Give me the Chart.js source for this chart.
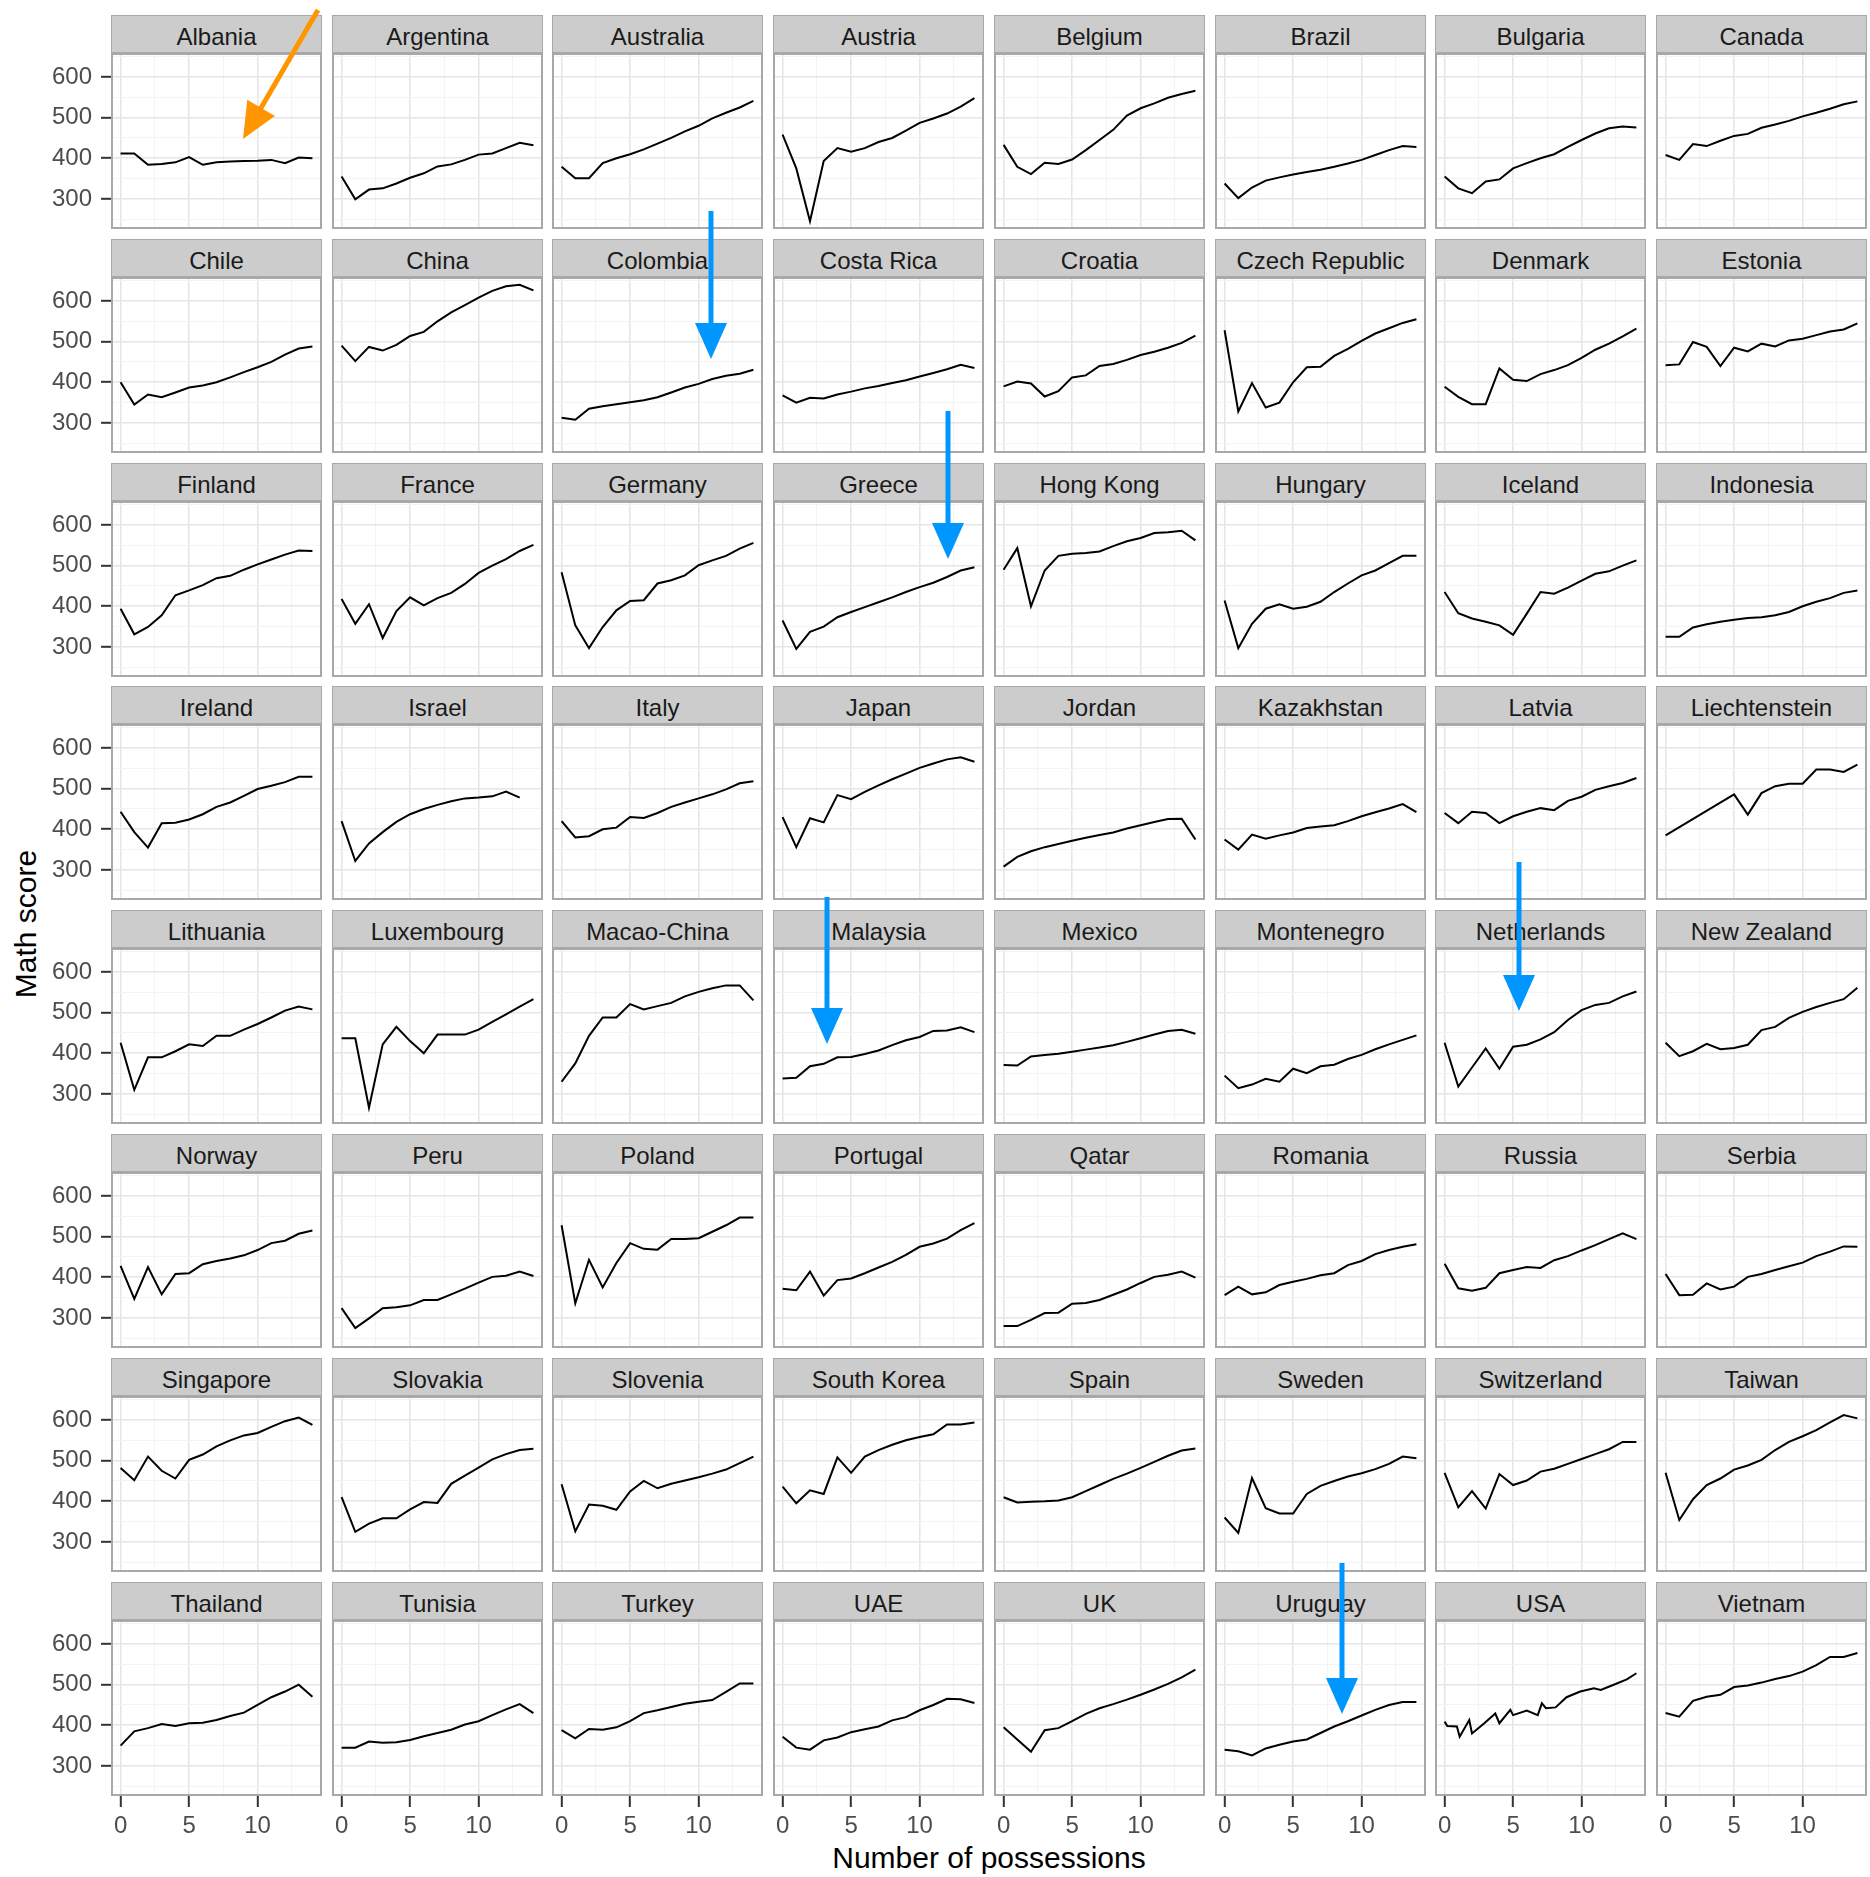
<!DOCTYPE html>
<html lang="en">
<head>
<meta charset="UTF-8">
<title>Math score by number of possessions</title>
<script src="https://cdn.jsdelivr.net/npm/chart.js"></script>
<style>
  body { margin: 0; background: #fff; font-family: "Liberation Sans", Arial, sans-serif; }
  #page { position: relative; width: 1870px; height: 1877px; overflow: hidden; }
  .strip { position: absolute; box-sizing: border-box; height: 38px; background: #cccccc; border: 1px solid #a8a8a8;
           color: #1a1a1a; font-size: 24px; text-align: center; line-height: 42px; white-space: nowrap; overflow: hidden; }
  canvas { position: absolute; }
  .axis-title { position: absolute; font-size: 30px; color: #000; white-space: nowrap; }
  #arrows { position: absolute; left: 0; top: 0; pointer-events: none; z-index: 10; }
</style>
</head>
<body>
<div id="page">
  <div class="axis-title" id="yTitle">Math score</div>
  <div class="axis-title" id="xTitle">Number of possessions</div>
  <svg id="arrows" width="1870" height="1877"></svg>
</div>

<script>
// facet order (8 x 8)
const countries = [
  'Albania', 'Argentina', 'Australia', 'Austria', 'Belgium', 'Brazil', 'Bulgaria', 'Canada',
  'Chile', 'China', 'Colombia', 'Costa Rica', 'Croatia', 'Czech Republic', 'Denmark', 'Estonia',
  'Finland', 'France', 'Germany', 'Greece', 'Hong Kong', 'Hungary', 'Iceland', 'Indonesia',
  'Ireland', 'Israel', 'Italy', 'Japan', 'Jordan', 'Kazakhstan', 'Latvia', 'Liechtenstein',
  'Lithuania', 'Luxembourg', 'Macao-China', 'Malaysia', 'Mexico', 'Montenegro', 'Netherlands', 'New Zealand',
  'Norway', 'Peru', 'Poland', 'Portugal', 'Qatar', 'Romania', 'Russia', 'Serbia',
  'Singapore', 'Slovakia', 'Slovenia', 'South Korea', 'Spain', 'Sweden', 'Switzerland', 'Taiwan',
  'Thailand', 'Tunisia', 'Turkey', 'UAE', 'UK', 'Uruguay', 'USA', 'Vietnam'
];

// number of possessions (x)
const possessions = [0, 1, 2, 3, 4, 5, 6, 7, 8, 9, 10, 11, 12, 13, 14];

// mean math score per number of possessions
const albania      = [412, 412, 384, 386, 390, 403, 384, 390, 392, 393, 394, 396, 388, 402, 400];
const argentina    = [355, 299, 323, 326, 338, 352, 363, 380, 385, 396, 409, 412, 425, 438, 432];
const australia    = [379, 351, 351, 388, 400, 410, 422, 436, 450, 466, 480, 498, 512, 525, 541];
const austria      = [458, 375, 245, 393, 425, 416, 425, 440, 450, 468, 487, 498, 510, 527, 548];
const belgium      = [433, 379, 361, 389, 386, 397, 420, 445, 470, 505, 523, 535, 549, 558, 566];
const brazil       = [338, 302, 328, 345, 353, 360, 366, 372, 379, 387, 396, 408, 420, 430, 428];
const bulgaria     = [355, 326, 314, 343, 348, 375, 388, 400, 410, 428, 445, 461, 474, 478, 476];
const canada       = [408, 396, 435, 430, 443, 455, 460, 475, 483, 492, 503, 512, 522, 533, 540];
const chile        = [400, 345, 370, 363, 375, 387, 392, 400, 412, 425, 437, 450, 468, 483, 488];
const china        = [490, 452, 487, 478, 492, 514, 524, 550, 572, 590, 608, 625, 636, 640, 626];
const colombia     = [313, 308, 335, 341, 346, 351, 356, 363, 375, 387, 396, 408, 416, 421, 431];
const costaRica    = [368, 350, 362, 360, 370, 377, 385, 391, 398, 405, 414, 423, 432, 443, 435];
const croatia      = [390, 402, 397, 365, 378, 412, 417, 440, 445, 455, 467, 475, 485, 497, 515];
const czechRep     = [528, 328, 398, 338, 350, 400, 437, 438, 465, 482, 502, 520, 533, 546, 555];
const denmark      = [389, 364, 346, 346, 434, 406, 403, 420, 430, 442, 460, 480, 495, 513, 532];
const estonia      = [442, 444, 499, 487, 440, 485, 476, 495, 488, 503, 507, 516, 525, 530, 545];
const finland      = [394, 331, 349, 378, 427, 439, 452, 469, 475, 490, 503, 515, 527, 537, 536];
const france       = [418, 357, 405, 322, 388, 422, 402, 420, 433, 455, 482, 500, 516, 536, 551];
const germany      = [484, 353, 297, 349, 390, 413, 415, 456, 464, 476, 501, 513, 524, 542, 556];
const greece       = [365, 295, 337, 350, 373, 386, 398, 410, 422, 435, 447, 458, 472, 488, 496];
const hongKong     = [490, 543, 400, 488, 524, 529, 531, 535, 548, 560, 568, 580, 582, 586, 562];
const hungary      = [414, 297, 357, 394, 405, 394, 399, 411, 435, 456, 476, 488, 506, 524, 524];
const iceland      = [435, 383, 370, 362, 353, 330, 382, 435, 431, 446, 463, 480, 486, 500, 513];
const indonesia    = [325, 325, 348, 356, 362, 367, 371, 373, 378, 386, 400, 411, 420, 433, 439];
const ireland      = [443, 393, 355, 415, 416, 424, 437, 455, 466, 482, 499, 507, 516, 529, 529];
const israel       = [420, 322, 365, 393, 418, 437, 450, 460, 469, 476, 478, 481, 493, 478, null];
const italy        = [420, 380, 383, 400, 404, 430, 428, 440, 455, 466, 476, 486, 498, 513, 518];
const japan        = [430, 356, 427, 417, 484, 474, 492, 508, 523, 537, 551, 562, 572, 577, 566];
const jordan       = [308, 332, 346, 356, 364, 372, 379, 386, 392, 402, 410, 418, 425, 426, 375];
const kazakhstan   = [375, 350, 387, 377, 385, 392, 403, 407, 410, 420, 432, 442, 451, 462, 442];
const latvia       = [440, 415, 443, 440, 415, 432, 443, 452, 447, 470, 480, 497, 506, 514, 526];
const liechtenst   = [385, null, null, null, null, 486, 436, 489, 506, 512, 512, 547, 547, 541, 559];
const lithuania    = [426, 310, 390, 390, 405, 422, 418, 443, 443, 458, 472, 488, 505, 515, 508];
const luxembourg   = [437, 437, 266, 422, 465, 430, 400, 446, 446, 446, 458, 477, 496, 515, 533];
const macao        = [330, 375, 443, 488, 488, 521, 508, 516, 524, 540, 551, 560, 567, 567, 530];
const malaysia     = [338, 340, 368, 374, 390, 391, 398, 407, 420, 432, 440, 455, 456, 464, 452];
const mexico       = [371, 370, 392, 396, 399, 404, 409, 414, 420, 428, 437, 446, 455, 458, 448];
const montenegro   = [345, 314, 323, 337, 330, 362, 351, 368, 372, 386, 396, 410, 422, 433, 444];
const netherlands  = [426, 318, 365, 412, 362, 416, 421, 434, 452, 482, 506, 519, 524, 540, 552];
const newZealand   = [426, 393, 405, 423, 410, 413, 421, 457, 465, 487, 502, 514, 524, 533, 561];
const norway       = [428, 347, 425, 358, 408, 410, 432, 440, 446, 454, 467, 484, 490, 507, 515];
const peru         = [324, 275, 299, 324, 326, 331, 344, 344, 358, 372, 387, 401, 404, 414, 403];
const poland       = [528, 336, 443, 375, 435, 484, 470, 468, 494, 494, 496, 512, 528, 547, 547];
const portugal     = [372, 368, 414, 355, 393, 397, 410, 424, 438, 455, 475, 483, 495, 516, 533];
const qatar        = [280, 280, 295, 312, 313, 335, 337, 344, 357, 370, 386, 401, 406, 414, 399];
const romania      = [356, 377, 358, 363, 381, 389, 396, 405, 410, 430, 440, 457, 467, 475, 481];
const russia       = [433, 373, 367, 374, 410, 418, 425, 423, 442, 452, 466, 479, 494, 508, 494];
const serbia       = [408, 356, 357, 385, 370, 377, 401, 408, 418, 427, 436, 452, 463, 476, 475];
const singapore    = [482, 452, 510, 475, 456, 502, 515, 535, 550, 562, 568, 583, 597, 606, 588];
const slovakia     = [410, 325, 345, 358, 358, 380, 398, 396, 443, 463, 483, 503, 516, 526, 529];
const slovenia     = [442, 326, 392, 389, 379, 424, 450, 432, 443, 451, 459, 468, 478, 494, 510];
const southKorea   = [436, 395, 427, 418, 508, 470, 510, 526, 539, 550, 558, 565, 589, 589, 594];
const spain        = [410, 397, 399, 400, 402, 410, 425, 440, 455, 468, 482, 497, 512, 525, 530];
const sweden       = [360, 322, 457, 383, 370, 370, 418, 438, 450, 461, 469, 479, 492, 510, 506];
const switzerland  = [470, 385, 425, 382, 467, 440, 451, 473, 480, 492, 504, 516, 528, 546, 546];
const taiwan       = [470, 354, 405, 440, 456, 478, 488, 502, 526, 546, 560, 575, 594, 612, 604];
const thailand     = [350, 385, 393, 403, 398, 405, 406, 413, 423, 431, 450, 469, 483, 500, 470];
const tunisia      = [345, 345, 360, 357, 358, 364, 373, 381, 389, 402, 410, 425, 439, 452, 430];
const turkey       = [388, 368, 391, 389, 395, 410, 430, 437, 445, 453, 458, 462, 482, 503, 503];
const uae          = [372, 345, 340, 363, 370, 383, 390, 397, 412, 420, 437, 450, 465, 464, 455];
const uk           = [395, 365, 335, 388, 393, 410, 428, 442, 452, 463, 475, 488, 502, 518, 537];
const uruguay      = [340, 336, 326, 343, 352, 360, 365, 381, 397, 410, 424, 438, 450, 457, 457];
const vietnam      = [430, 421, 460, 470, 475, 494, 498, 505, 514, 521, 532, 548, 568, 568, 578];

// USA has repeated x values, so it keeps its own x list
const usaPossessions = [0, 0.2, 0.9, 1.1, 1.8, 2.0, 2.9, 3.7, 4.0, 4.8, 5.0, 6.0, 6.8, 7.1, 7.4, 8.1, 8.9, 9.9, 10.9, 11.4, 12.3, 13.3, 14.0];
const usaScores      = [409, 398, 397, 372, 413, 380, 405, 429, 405, 438, 425, 436, 425, 454, 442, 444, 469, 483, 491, 487, 499, 513, 528];

const mathScores = [
  albania, argentina, australia, austria, belgium, brazil, bulgaria, canada,
  chile, china, colombia, costaRica, croatia, czechRep, denmark, estonia,
  finland, france, germany, greece, hongKong, hungary, iceland, indonesia,
  ireland, israel, italy, japan, jordan, kazakhstan, latvia, liechtenst,
  lithuania, luxembourg, macao, malaysia, mexico, montenegro, netherlands, newZealand,
  norway, peru, poland, portugal, qatar, romania, russia, serbia,
  singapore, slovakia, slovenia, southKorea, spain, sweden, switzerland, taiwan,
  thailand, tunisia, turkey, uae, uk, uruguay, usaScores, vietnam
];

// grid / tick positions
const xGrid = [0, 2.5, 5, 7.5, 10, 12.5];
const yGrid = [250, 300, 350, 400, 450, 500, 550, 600, 650];

// layout (px)
const panelLeft0 = 111, colStep = 220.7, panelW = 211;
const stripTop0 = 15, rowStep = 223.8, stripH = 38, panelH = 176;
const yAxisW = 111, xAxisH = 50;

Chart.defaults.font.family = '"Liberation Sans", Arial, sans-serif';

const panelBorder = {
    id: 'panelBorder',
    afterDraw(chart) {
        const { ctx, chartArea: a } = chart;
        ctx.save();
        ctx.strokeStyle = '#a8a8a8';
        ctx.lineWidth = 2;
        ctx.strokeRect(a.left + 1, a.top + 1, a.right - a.left - 2, a.bottom - a.top - 2);
        ctx.restore();
    }
};

const page = document.getElementById('page');

countries.forEach((name, i) => {
    const row = Math.floor(i / 8), col = i % 8;
    const left = Math.round(panelLeft0 + col * colStep);
    const stripTop = Math.round(stripTop0 + row * rowStep);
    const showY = col === 0, showX = row === 7;

    const strip = document.createElement('div');
    strip.className = 'strip';
    strip.style.left = left + 'px';
    strip.style.top = stripTop + 'px';
    strip.style.width = panelW + 'px';
    strip.textContent = name;
    page.appendChild(strip);

    const canvas = document.createElement('canvas');
    const cw = panelW + (showY ? yAxisW : 0);
    const ch = panelH + (showX ? xAxisH : 0);
    canvas.width = cw;
    canvas.height = ch;
    canvas.style.width = cw + 'px';
    canvas.style.height = ch + 'px';
    canvas.style.left = (left - (showY ? yAxisW : 0)) + 'px';
    canvas.style.top = (stripTop + stripH) + 'px';
    page.appendChild(canvas);

    const xs = name === 'USA' ? usaPossessions : possessions;
    const ys = mathScores[i];

    new Chart(canvas, {
        type: 'line',
        data: {
            datasets: [{
                data: xs.map((x, k) => ({ x: x, y: ys[k] })),
                borderColor: '#000000',
                borderWidth: 2,
                pointRadius: 0,
                tension: 0,
                spanGaps: true,
                fill: false
            }]
        },
        options: {
            responsive: false,
            animation: false,
            events: [],
            layout: { padding: 0, autoPadding: false },
            plugins: { legend: { display: false }, tooltip: { enabled: false } },
            scales: {
                x: {
                    type: 'linear',
                    min: -0.7,
                    max: 14.7,
                    afterBuildTicks: axis => { axis.ticks = xGrid.map(v => ({ value: v })); },
                    afterFit: axis => {
                        axis.height = showX ? xAxisH : 0;
                        axis.paddingLeft = 0; axis.paddingRight = 0;
                        axis.paddingTop = 0; axis.paddingBottom = 0;
                    },
                    border: { display: false },
                    grid: {
                        color: c => (c.tick && c.tick.value % 5 === 0) ? '#e6e6e6' : '#f4f4f4',
                        lineWidth: c => (c.tick && c.tick.value % 5 === 0) ? 1.6 : 1,
                        drawTicks: showX,
                        tickLength: 11,
                        tickWidth: 2,
                        tickColor: c => (c.tick && c.tick.value % 5 === 0) ? '#333333' : 'rgba(0,0,0,0)'
                    },
                    ticks: {
                        display: showX,
                        autoSkip: false,
                        maxRotation: 0,
                        padding: 5,
                        color: '#4d4d4d',
                        font: { size: 24 },
                        callback: v => (v % 5 === 0 ? String(v) : '')
                    }
                },
                y: {
                    type: 'linear',
                    min: 226,
                    max: 659,
                    afterBuildTicks: axis => { axis.ticks = yGrid.map(v => ({ value: v })); },
                    afterFit: axis => {
                        axis.width = showY ? yAxisW : 0;
                        axis.paddingLeft = 0; axis.paddingRight = 0;
                        axis.paddingTop = 0; axis.paddingBottom = 0;
                    },
                    border: { display: false },
                    grid: {
                        color: c => (c.tick && c.tick.value % 100 === 0) ? '#e6e6e6' : '#f4f4f4',
                        lineWidth: c => (c.tick && c.tick.value % 100 === 0) ? 1.6 : 1,
                        drawTicks: showY,
                        tickLength: 10,
                        tickWidth: 2,
                        tickColor: c => (c.tick && c.tick.value % 100 === 0) ? '#333333' : 'rgba(0,0,0,0)'
                    },
                    ticks: {
                        display: showY,
                        autoSkip: false,
                        padding: 9,
                        color: '#4d4d4d',
                        font: { size: 24 },
                        callback: v => (v % 100 === 0 ? String(v) : '')
                    }
                }
            }
        },
        plugins: [panelBorder]
    });
});

// axis titles
const yTitle = document.getElementById('yTitle');
yTitle.style.left = '26px';
yTitle.style.top = '924px';
yTitle.style.transform = 'translate(-50%, -50%) rotate(-90deg)';
const xTitle = document.getElementById('xTitle');
xTitle.style.left = '989px';
xTitle.style.top = '1858px';
xTitle.style.transform = 'translate(-50%, -50%)';

// annotation arrows drawn over the figure
const svg = document.getElementById('arrows');
function addArrow(x1, y1, x2, y2, colour) {
    const ns = 'http://www.w3.org/2000/svg';
    const dx = x2 - x1, dy = y2 - y1, len = Math.hypot(dx, dy);
    const ux = dx / len, uy = dy / len;
    const headLen = 36, headHalf = 16;
    const bx = x2 - ux * headLen, by = y2 - uy * headLen;
    const line = document.createElementNS(ns, 'line');
    line.setAttribute('x1', x1); line.setAttribute('y1', y1);
    line.setAttribute('x2', bx + ux * 2); line.setAttribute('y2', by + uy * 2);
    line.setAttribute('stroke', colour);
    line.setAttribute('stroke-width', 5);
    svg.appendChild(line);
    const head = document.createElementNS(ns, 'polygon');
    head.setAttribute('points', [
        [x2, y2],
        [bx - uy * headHalf, by + ux * headHalf],
        [bx + uy * headHalf, by - ux * headHalf]
    ].map(p => p.join(',')).join(' '));
    head.setAttribute('fill', colour);
    svg.appendChild(head);
}
addArrow(318, 10, 243, 139, '#ff9500');
addArrow(711, 211, 711, 359, '#0096ff');
addArrow(948, 411, 948, 559, '#0096ff');
addArrow(827, 897, 827, 1044, '#0096ff');
addArrow(1519, 862, 1519, 1011, '#0096ff');
addArrow(1342, 1563, 1342, 1714, '#0096ff');
</script>
</body>
</html>
